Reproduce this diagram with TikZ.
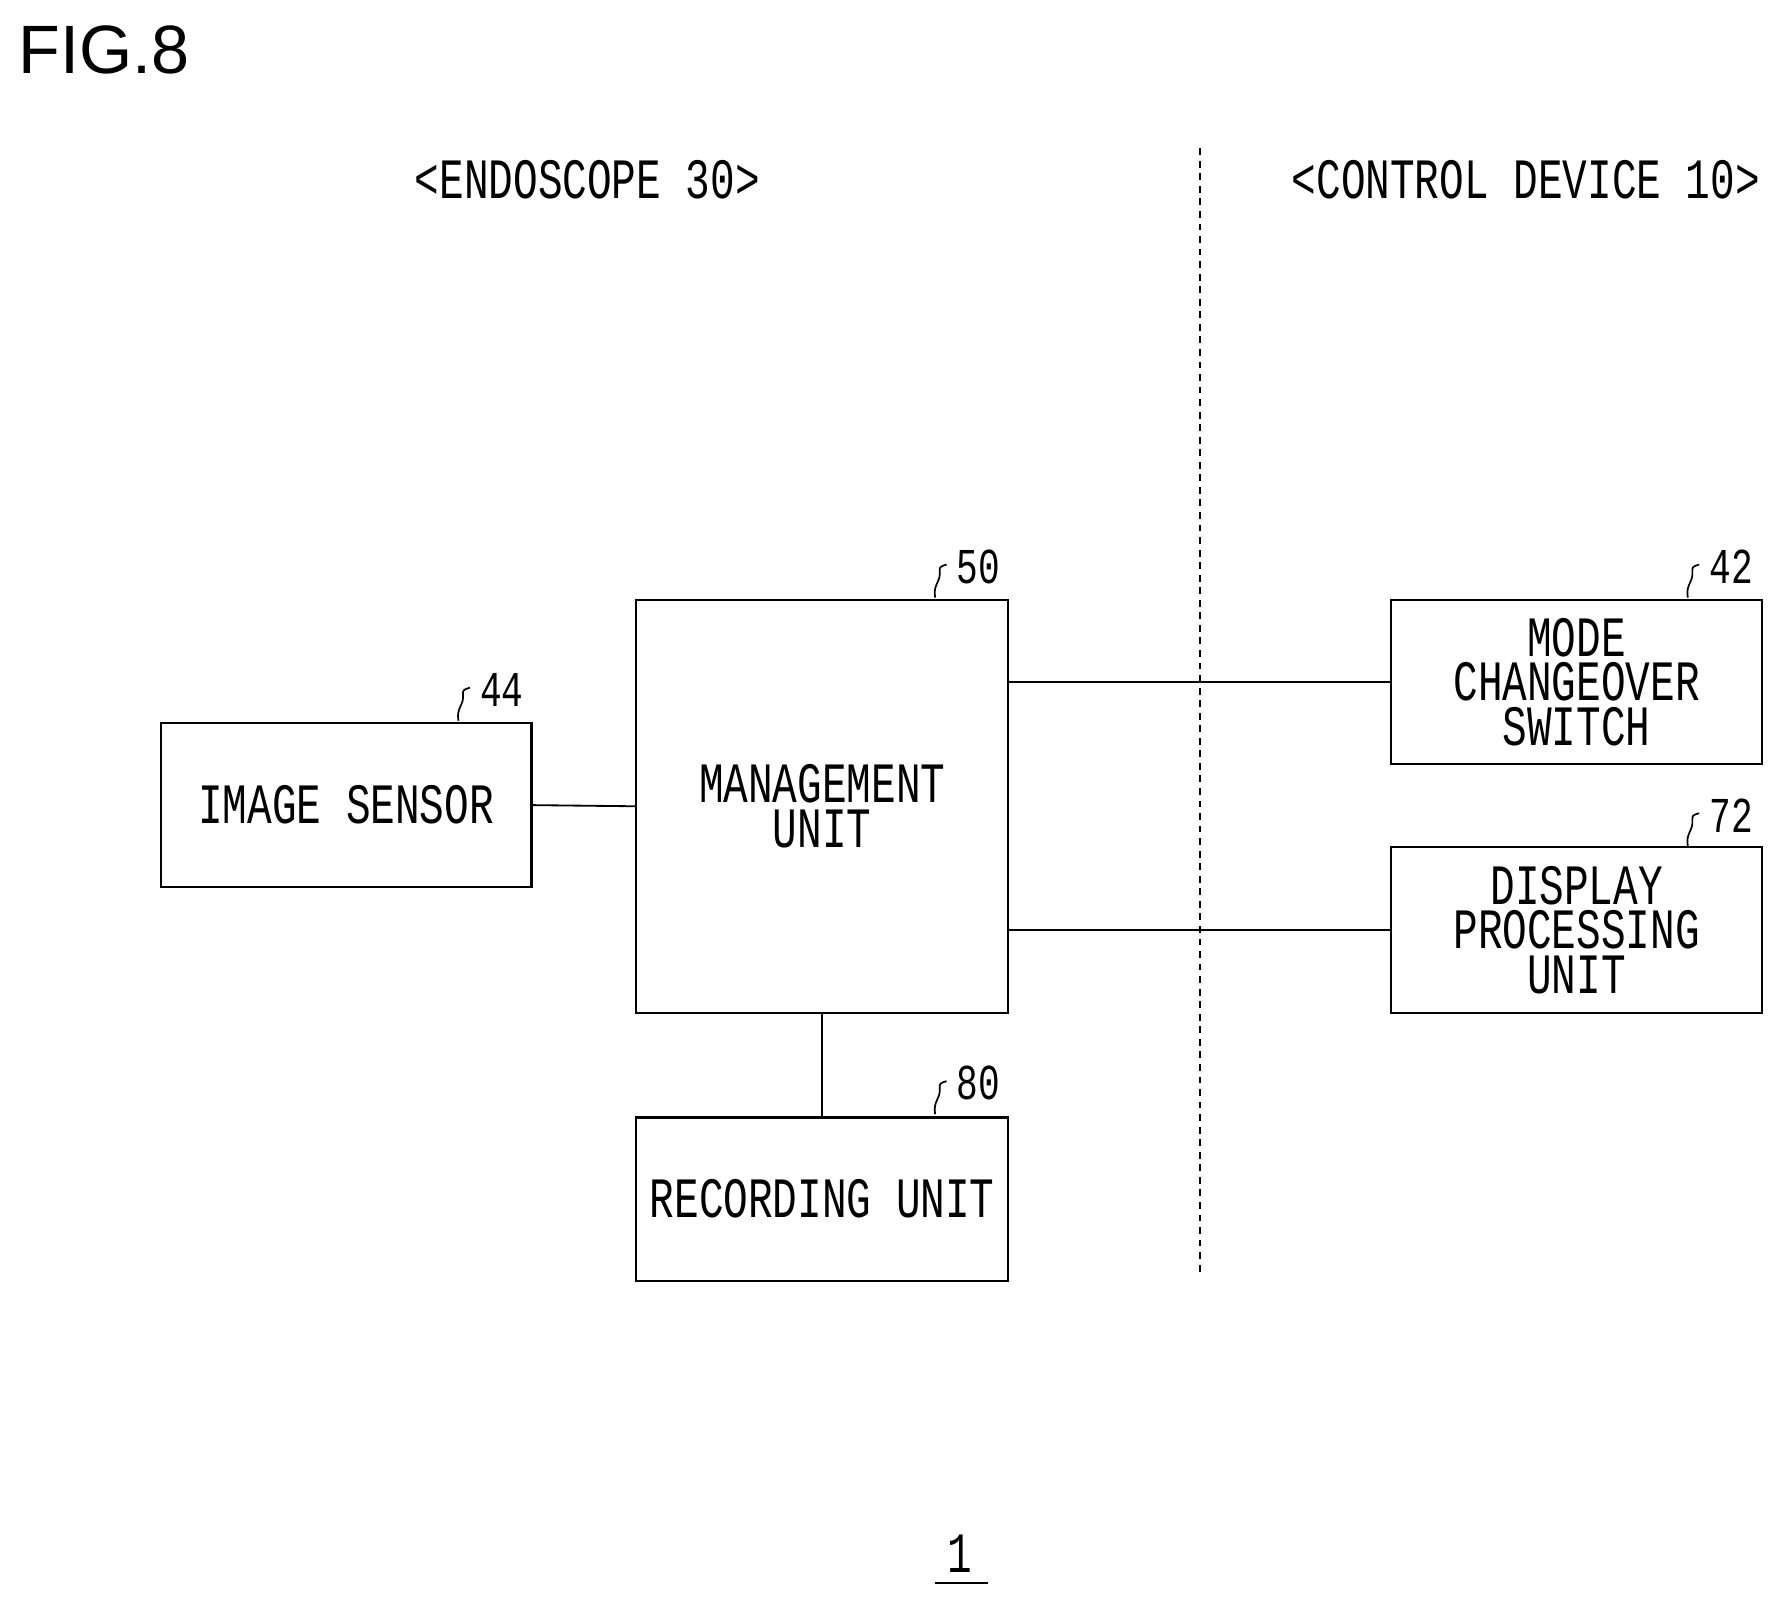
\documentclass[tikz,border=0pt]{standalone}
\usepackage{fontspec}
\setmainfont{Liberation Sans}
\newfontfamily\cf[FakeStretch=0.72]{Liberation Mono}
\begin{document}
\begin{tikzpicture}[x=1pt,y=-1pt,
  blk/.style={draw,line width=2pt,inner sep=0pt,font=\cf\fontsize{50}{39}\selectfont,align=center},
  lbl/.style={font=\cf\fontsize{44}{44}\selectfont,inner sep=0pt},
  conn/.style={line width=1.6pt}]
\useasboundingbox (0,0) rectangle (1560,1401);
\node[font=\fontsize{60}{60}\selectfont,anchor=west,inner sep=0pt] (fig) at (16,44) {FIG.8};
\node[font=\cf\fontsize{50}{50}\selectfont,inner sep=0pt] (endo) at (515,158) {<ENDOSCOPE 30>};
\node[font=\cf\fontsize{50}{50}\selectfont,inner sep=0pt] (ctrl) at (1338,158) {<CONTROL DEVICE 10>};
\coordinate (dt) at (1052,130); \coordinate (db) at (1052,1118);
\draw[line width=1.6pt,dash pattern=on 6pt off 5pt] (dt) -- (db);
\node[blk,minimum width=325,minimum height=144] (img) at (303.5,706) {IMAGE SENSOR};
\node[blk,minimum width=326,minimum height=362] (mgmt) at (721,707) {MANAGEMENT\\UNIT};
\node[blk,minimum width=326,minimum height=143] (rec) at (721,1051.5) {RECORDING UNIT};
\node[blk,minimum width=325,minimum height=144] (mode) at (1382.5,598) {MODE\\CHANGEOVER\\SWITCH};
\node[blk,minimum width=325,minimum height=145] (disp) at (1382.5,815.5) {DISPLAY\\PROCESSING\\UNIT};
\draw[conn] (img.east) -- (mgmt.west);
\draw[conn] (mgmt.east |- mode.west) -- (mode.west);
\draw[conn] (mgmt.east |- disp.west) -- (disp.west);
\draw[conn] (mgmt.south) -- (rec.north);
\foreach \n/\t/\x/\y in {n44/44/440/605, n50/50/858/497, n80/80/858/950, n42/42/1518/497, n72/72/1518/715}{
  \node[lbl] (\n) at (\x,\y) {\t};
  \draw[line width=1.5pt] (\x-38,\y+27) .. controls (\x-40,\y+15) and (\x-33,\y+14) .. (\x-34,\y+4) .. controls (\x-34,\y) .. (\x-28,\y-2);
}
\node[font=\cf\fontsize{50}{50}\selectfont,inner sep=0pt] (one) at (842,1362) {1};
\coordinate (ua) at (820,1388); \coordinate (ub) at (866,1388);
\draw[line width=2pt] (ua) -- (ub);
\end{tikzpicture}
\end{document}
